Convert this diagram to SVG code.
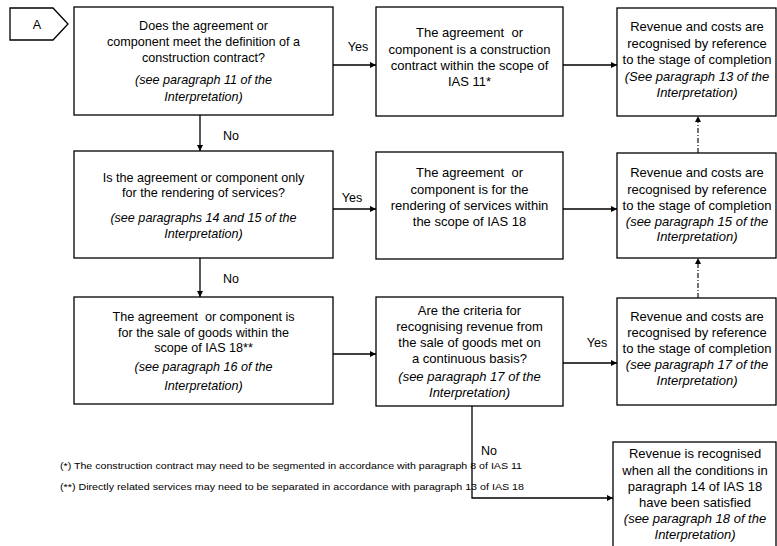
<svg xmlns="http://www.w3.org/2000/svg" width="777" height="546" viewBox="0 0 777 546">
<style>
.b{fill:#fff;stroke:#000;stroke-width:1.3}
.t{font-family:"Liberation Sans",Arial,sans-serif;font-size:12.6px;fill:#000;text-anchor:middle}
.r{font-family:"Liberation Sans",Arial,sans-serif;font-size:13px;fill:#000;text-anchor:middle}
.i{font-style:italic}
.l{font-family:"Liberation Sans",Arial,sans-serif;font-size:12.5px;fill:#000}
.f{font-family:"Liberation Sans",Arial,sans-serif;font-size:9.5px;fill:#000}
.c{fill:none;stroke:#000;stroke-width:1.3}
.d{fill:none;stroke:#000;stroke-width:1.1;stroke-dasharray:5 2 1 2}
</style>
<defs>
<marker id="ah" viewBox="0 0 10 10" refX="10" refY="5" markerWidth="6" markerHeight="6" markerUnits="userSpaceOnUse" orient="auto">
<path d="M0,0 L10,5 L0,10 z" fill="#000"/>
</marker>
</defs>
<rect width="777" height="546" fill="#fff"/>
<g id="connectors">
<line class="c" x1="333" y1="65" x2="376" y2="65" marker-end="url(#ah)"/>
<line class="c" x1="563" y1="65" x2="617" y2="65" marker-end="url(#ah)"/>
<line class="c" x1="200" y1="115" x2="200" y2="151" marker-end="url(#ah)"/>
<line class="c" x1="333" y1="209" x2="376" y2="209" marker-end="url(#ah)"/>
<line class="c" x1="563" y1="209" x2="617" y2="209" marker-end="url(#ah)"/>
<line class="c" x1="200" y1="258" x2="200" y2="297" marker-end="url(#ah)"/>
<line class="c" x1="333" y1="354" x2="376" y2="354" marker-end="url(#ah)"/>
<line class="c" x1="563" y1="363" x2="617" y2="363" marker-end="url(#ah)"/>
<polyline class="c" points="472,406 472,498 613,498" marker-end="url(#ah)"/>
<line class="d" x1="698" y1="153" x2="698" y2="116" marker-end="url(#ah)"/>
<line class="d" x1="698" y1="298" x2="698" y2="258" marker-end="url(#ah)"/>
<text class="l" x="358" y="51" text-anchor="middle">Yes</text>
<text class="l" x="352" y="202" text-anchor="middle">Yes</text>
<text class="l" x="597" y="347" text-anchor="middle">Yes</text>
<text class="l" x="223" y="140">No</text>
<text class="l" x="223" y="283">No</text>
<text class="l" x="481" y="455">No</text>
</g>
<g id="nodeA">
<polygon class="b" points="10,8 53,8 68,24 53,40 10,40"/>
<text class="t" x="37" y="29">A</text>
</g>
<g id="q1">
<rect class="b" x="74" y="7" width="259" height="108"/>
<text class="t" x="203.5" y="29.5">Does the agreement or</text>
<text class="t" x="203.5" y="46">component meet the definition of a</text>
<text class="t" x="203.5" y="62">construction contract?</text>
<text class="t i" x="203.5" y="84">(see paragraph 11 of the</text>
<text class="t i" x="203.5" y="100.5">Interpretation)</text>
</g>
<g id="construction">
<rect class="b" x="376" y="7" width="187" height="109"/>
<text class="r" x="469.5" y="37" xml:space="preserve">The agreement  or</text>
<text class="r" x="469.5" y="54">component is a construction</text>
<text class="r" x="469.5" y="70">contract within the scope of</text>
<text class="r" x="469.5" y="86">IAS 11*</text>
</g>
<g id="result13">
<rect class="b" x="617" y="8" width="159" height="108"/>
<text class="r" x="697" y="31">Revenue and costs are</text>
<text class="r" x="697" y="47.5">recognised by reference</text>
<text class="r" x="697" y="64">to the stage of completion</text>
<text class="r i" x="697" y="81">(See paragraph 13 of the</text>
<text class="r i" x="697" y="97">Interpretation)</text>
</g>
<g id="q2">
<rect class="b" x="74" y="151" width="259" height="107"/>
<text class="t" x="203.5" y="182">Is the agreement or component only</text>
<text class="t" x="203.5" y="197">for the rendering of services?</text>
<text class="t i" x="203.5" y="222">(see paragraphs 14 and 15 of the</text>
<text class="t i" x="203.5" y="238">Interpretation)</text>
</g>
<g id="services">
<rect class="b" x="376" y="152" width="187" height="107"/>
<text class="r" x="469.5" y="177" xml:space="preserve">The agreement  or</text>
<text class="r" x="469.5" y="194">component is for the</text>
<text class="r" x="469.5" y="210">rendering of services within</text>
<text class="r" x="469.5" y="226">the scope of IAS 18</text>
</g>
<g id="result15">
<rect class="b" x="617" y="153" width="159" height="105"/>
<text class="r" x="697" y="177">Revenue and costs are</text>
<text class="r" x="697" y="194">recognised by reference</text>
<text class="r" x="697" y="210">to the stage of completion</text>
<text class="r i" x="697" y="226">(see paragraph 15 of the</text>
<text class="r i" x="697" y="241">Interpretation)</text>
</g>
<g id="goods">
<rect class="b" x="74" y="297" width="259" height="107"/>
<text class="t" x="203.5" y="321" xml:space="preserve">The agreement  or component is</text>
<text class="t" x="203.5" y="337">for the sale of goods within the</text>
<text class="t" x="203.5" y="352">scope of IAS 18**</text>
<text class="t i" x="203.5" y="371">(see paragraph 16 of the</text>
<text class="t i" x="203.5" y="390">Interpretation)</text>
</g>
<g id="q3">
<rect class="b" x="376" y="297" width="187" height="109"/>
<text class="r" x="469.5" y="315">Are the criteria for</text>
<text class="r" x="469.5" y="331">recognising revenue from</text>
<text class="r" x="469.5" y="347">the sale of goods met on</text>
<text class="r" x="469.5" y="363">a continuous basis?</text>
<text class="r i" x="469.5" y="381">(see paragraph 17 of the</text>
<text class="r i" x="469.5" y="397">Interpretation)</text>
</g>
<g id="result17">
<rect class="b" x="617" y="298" width="159" height="107"/>
<text class="r" x="697" y="321">Revenue and costs are</text>
<text class="r" x="697" y="337">recognised by reference</text>
<text class="r" x="697" y="353">to the stage of completion</text>
<text class="r i" x="697" y="369">(see paragraph 17 of the</text>
<text class="r i" x="697" y="385">Interpretation)</text>
</g>
<g id="result18">
<rect class="b" x="613" y="442" width="163" height="112"/>
<text class="r" x="695" y="458">Revenue is recognised</text>
<text class="r" x="695" y="475">when all the conditions in</text>
<text class="r" x="695" y="491">paragraph 14 of IAS 18</text>
<text class="r" x="695" y="507">have been satisfied</text>
<text class="r i" x="695" y="523">(see paragraph 18 of the</text>
<text class="r i" x="695" y="539">Interpretation)</text>
</g>
<g id="footnotes">
<text class="f" x="60" y="469" textLength="462" lengthAdjust="spacingAndGlyphs">(*) The construction contract may need to be segmented in accordance with paragraph 8 of IAS 11</text>
<text class="f" x="60" y="490" textLength="464" lengthAdjust="spacingAndGlyphs">(**) Directly related services may need to be separated in accordance with paragraph 13 of IAS 18</text>
</g>
</svg>
